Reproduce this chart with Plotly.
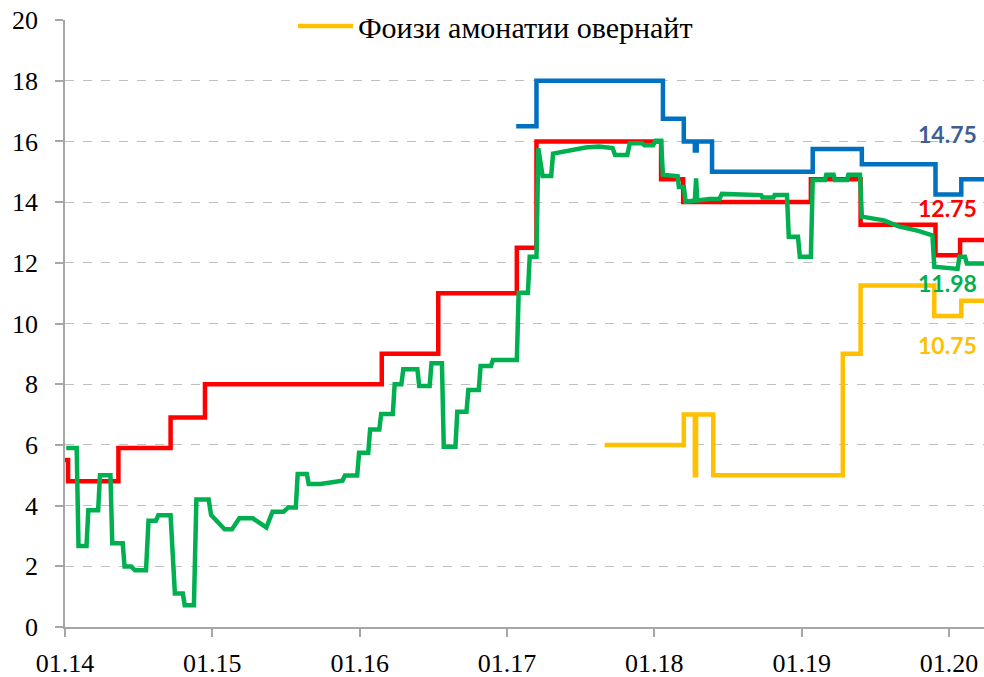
import plotly.graph_objects as go

# ---- data (x = months since January 2014) ----
tick_vals = [0, 12, 24, 36, 48, 60, 72]
tick_text = ["01.14", "01.15", "01.16", "01.17", "01.18", "01.19", "01.20"]
x_end = 74.85

red_x = [0, 0.25, 4.35, 8.6, 11.4, 25.8, 30.4, 36.8, 38.4, 48.55, 50.35, 60.75, 64.8, 70.9, 72.9, x_end]
red_y = [5.5, 4.8, 5.9, 6.9, 8.0, 9.0, 11.0, 12.5, 16.0, 14.75, 14.0, 14.75, 13.25, 12.25, 12.75, 12.75]

blue_x = [36.75, 38.4, 48.7, 50.4, 51.3, 51.45, 52.7, 60.9, 64.9, 70.9, 73.0, x_end]
blue_y = [16.5, 18.0, 16.75, 16.0, 15.7, 16.0, 15.0, 15.75, 15.25, 14.25, 14.75, 14.75]

yellow_x = [43.95, 50.4, 51.3, 51.4, 52.8, 63.35, 64.8, 70.8, 73.0, x_end]
yellow_y = [6.0, 7.0, 5.0, 7.0, 5.0, 9.0, 11.25, 10.25, 10.75, 10.75]

green_x = [0.1, 0.95, 1.1, 1.75, 1.9, 2.7, 2.85, 3.7, 3.85, 4.7, 4.85, 5.4, 5.7, 6.6, 6.8, 7.4,
           7.6, 8.6, 8.95, 9.6, 9.75, 10.5, 10.7, 11.7, 11.9, 13.0, 13.6, 14.2, 15.3, 16.4, 16.9, 17.8,
           18.2, 18.8, 18.95, 19.7, 19.85, 20.8, 22.6, 22.8, 23.8, 23.95, 24.7, 24.85, 25.6, 25.75,
           26.7, 26.85, 27.4, 27.55, 28.7, 28.85, 29.7, 29.85, 30.7, 30.85, 31.8, 31.95, 32.7, 32.85,
           33.7, 33.85, 34.7, 34.85, 36.8, 36.95, 37.7, 37.85, 38.4, 38.55, 38.9, 39.6, 39.75, 41.1,
           42.4, 43.5, 44.6, 44.8, 45.8, 46.0, 47.0, 47.2, 47.9, 48.1, 48.55, 48.7, 49.9, 50.0, 50.4,
           50.55, 51.3, 51.4, 51.5, 52.5, 53.3, 53.5, 56.7, 56.8, 57.7, 57.8, 58.8, 58.95, 59.7, 59.85,
           60.75, 60.9, 61.9, 62.0, 62.6, 62.7, 63.7, 63.8, 64.75, 64.9, 66.7, 67.9, 69.5, 70.65, 70.8,
           72.7, 72.85, 73.3, 73.45, x_end]
green_y = [5.9, 5.9, 2.67, 2.67, 3.85, 3.85, 5.0, 5.0, 2.76, 2.76, 1.99, 1.99, 1.87, 1.87, 3.5, 3.5,
           3.68, 3.68, 1.1, 1.1, 0.72, 0.72, 4.2, 4.2, 3.69, 3.22, 3.22, 3.58, 3.58, 3.28, 3.8, 3.8,
           3.94, 3.94, 5.04, 5.04, 4.71, 4.71, 4.82, 4.99, 4.99, 5.74, 5.74, 6.51, 6.51, 7.02,
           7.02, 8.0, 8.0, 8.49, 8.49, 7.94, 7.94, 8.69, 8.69, 5.94, 5.94, 7.09, 7.09, 7.81,
           7.81, 8.6, 8.6, 8.8, 8.8, 11.01, 11.01, 12.2, 12.2, 15.77, 14.86, 14.86, 15.6, 15.72,
           15.8, 15.83, 15.78, 15.55, 15.55, 15.94, 15.94, 15.87, 15.87, 16.02, 16.02, 14.9, 14.85, 14.5, 14.5,
           14.01, 14.05, 14.78, 14.05, 14.1, 14.1, 14.27, 14.23, 14.15, 14.15, 14.23, 14.23, 12.86, 12.86, 12.2,
           12.2, 14.73, 14.73, 14.9, 14.9, 14.73, 14.73, 14.9, 14.9, 13.52, 13.4, 13.2, 13.05, 12.9, 11.87,
           11.8, 12.2, 12.2, 11.98, 11.98]

legend_name = "Фоизи амонатии овернайт"

# ---- figure ----
lw = 4.5
fig = go.Figure()
fig.add_trace(go.Scatter(x=red_x, y=red_y, mode="lines", line=dict(color="#ff0000", width=lw, shape="hv"),
                         showlegend=False, name="red"))
fig.add_trace(go.Scatter(x=blue_x, y=blue_y, mode="lines", line=dict(color="#0070c0", width=lw, shape="hv"),
                         showlegend=False, name="blue"))
fig.add_trace(go.Scatter(x=yellow_x, y=yellow_y, mode="lines", line=dict(color="#ffc000", width=lw, shape="hv"),
                         showlegend=True, name=legend_name))
fig.add_trace(go.Scatter(x=green_x, y=green_y, mode="lines", line=dict(color="#00b050", width=lw),
                         showlegend=False, name="green"))

label_font = "Lato"
labels = [
    (f"{blue_y[-1]:.2f}", 16.23, "#3d5f91"),
    (f"{red_y[-1]:.2f}", 13.79, "#ff0000"),
    (f"{green_y[-1]:.2f}", 11.32, "#00b050"),
    (f"{yellow_y[-1]:.2f}", 9.29, "#ffc000"),
]
for txt, yy, col in labels:
    fig.add_annotation(x=71.9, y=yy, xref="x", yref="y", text=f"<b>{txt}</b>", showarrow=False,
                       font=dict(family=label_font, size=23, color=col), xanchor="center", yanchor="middle")

serif = "Liberation Serif"
fig.update_layout(
    width=984, height=677,
    margin=dict(l=65, r=0, t=20, b=50, autoexpand=False),
    paper_bgcolor="white", plot_bgcolor="white",
    font=dict(family=serif, color="#000000"),
    legend=dict(orientation="h", x=0.248, y=0.99, xanchor="left", yanchor="middle",
                font=dict(family=serif, size=30, color="#000000"), bgcolor="rgba(0,0,0,0)",
                itemwidth=55),
    xaxis=dict(range=[0, x_end], tickmode="array", tickvals=tick_vals, ticktext=tick_text,
               showgrid=False, zeroline=False, showline=True, linecolor="#a6a6a6", linewidth=1.5,
               ticks="outside", ticklen=8, tickcolor="#a6a6a6", tickwidth=1.5, automargin=False,
               tickfont=dict(family=serif, size=26, color="#000000"), ticklabelstandoff=4),
    yaxis=dict(range=[0, 20], tickmode="array", tickvals=list(range(0, 21, 2)),
               showgrid=True, gridcolor="#bfbfbf", griddash="dash", gridwidth=1.2, automargin=False,
               zeroline=False, showline=True, linecolor="#a6a6a6", linewidth=1.5,
               ticks="outside", ticklen=8, tickcolor="#a6a6a6", tickwidth=1.5,
               tickfont=dict(family=serif, size=26, color="#000000"), ticklabelstandoff=12),
)

fig.write_html("out.html", config={"displayModeBar": False},
               post_script="document.body.style.margin='0';document.body.style.overflow='hidden';")
